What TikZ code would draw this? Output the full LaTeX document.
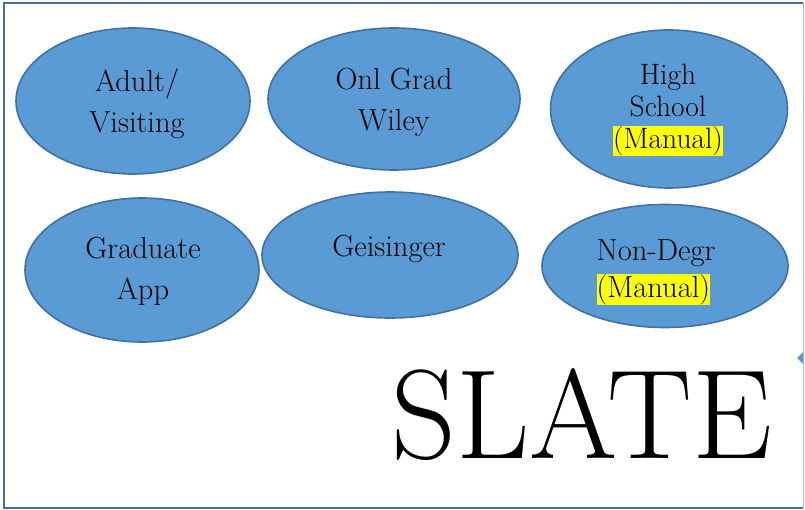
\documentclass[tikz,border=0pt]{standalone}
\usepackage{tikz}
\usetikzlibrary{shapes.geometric}
\definecolor{slBlue}{RGB}{91,155,213}
\definecolor{slBorder}{RGB}{65,113,156}
\definecolor{slFrame}{RGB}{70,110,160}
\definecolor{slFrameLight}{RGB}{160,185,215}
\definecolor{slYellow}{RGB}{255,255,0}

\newcommand{\manualmark}{{\setlength{\fboxsep}{0pt}\colorbox{slYellow}{(Manual)}}}

\tikzset{
    oval/.style={ellipse, draw=slBorder, line width=1.6pt, fill=slBlue, inner sep=0pt},
    lbl/.style={align=center, inner sep=0pt, font=\fontsize{30.5}{41}\selectfont}
}

\begin{document}
\begin{tikzpicture}[x=1pt, y=-1pt]
    \useasboundingbox (0,0) rectangle (805,510);

    % frame
    \draw[slFrame, line width=1.8pt] (803,3) -- (4,3) -- (4,508) -- (803,508);
    \draw[slFrameLight, line width=1pt] (803,3) -- (803,508);
    \fill[slBlue] (797,358) -- (803,352) -- (803,364) -- cycle;

    % top row
    \node[oval, minimum width=234pt, minimum height=146pt] (adult) at (133,101) {};
    \node[oval, minimum width=252pt, minimum height=142pt] (onlgrad) at (394,99) {};
    \node[oval, minimum width=237pt, minimum height=158pt] (highschool) at (669,109) {};

    % second row
    \node[oval, minimum width=234pt, minimum height=144pt] (gradapp) at (142,270) {};
    \node[oval, minimum width=256pt, minimum height=126pt] (geisinger) at (390,255) {};
    \node[oval, minimum width=246pt, minimum height=123pt] (nondegr) at (665,266) {};

    % texts
    \node[lbl] (adulttxt) at (137,104) {Adult/\\Visiting};
    \node[lbl] (onlgradtxt) at (394,102) {Onl Grad\\Wiley};
    \node[lbl, font=\fontsize{29.5}{32}\selectfont] (highschooltxt) at (668,110) {High\\School\\\manualmark};
    \node[lbl] (gradapptxt) at (143,271) {Graduate\\App};
    \node[lbl] (geisingertxt) at (389,249) {Geisinger};
    \node[lbl, align=left, font=\fontsize{30.5}{37}\selectfont] (nondegrtxt) at (656,272) {Non-Degr\\\manualmark};

    \node[inner sep=0pt, font=\fontsize{127}{127}\selectfont] (slate) at (582,415) {SLATE};
\end{tikzpicture}
\end{document}
